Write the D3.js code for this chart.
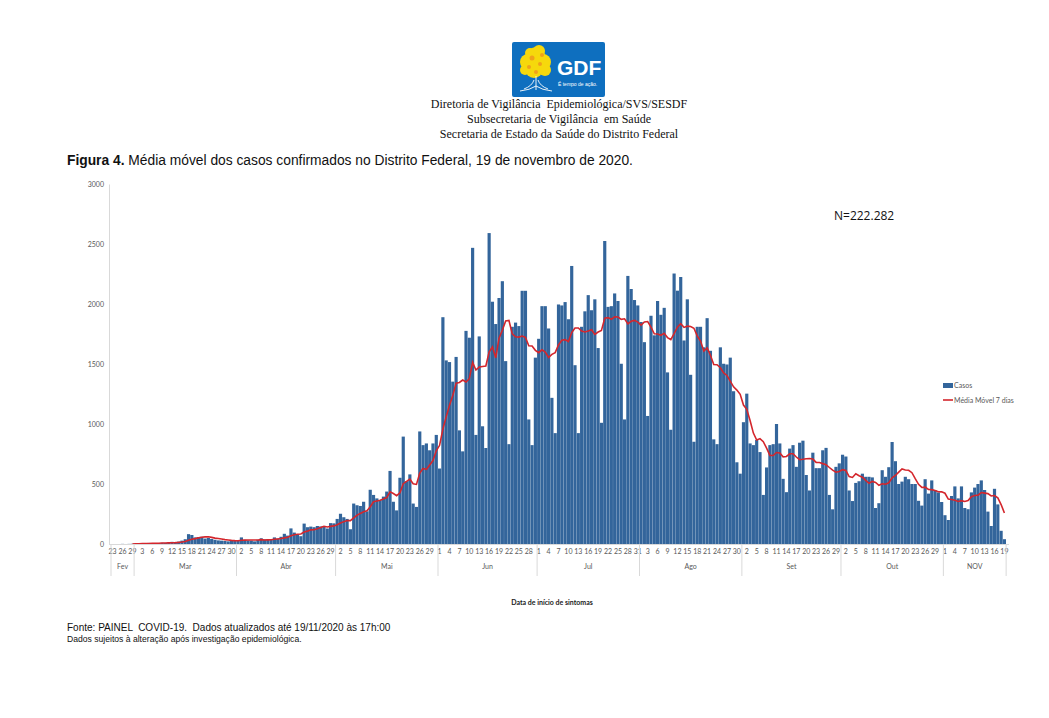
<!DOCTYPE html>
<html>
<head>
<meta charset="utf-8">
<script src="https://cdn.jsdelivr.net/npm/d3@7"></script>
<style>
  body { margin: 0; background: #fff; }
</style>
</head>
<body>
<div id="vis"></div>
<script>
// Cores.
const barColor = "#33659b";
const lineColor = "#d4262c";
const axisText = "#595959";
const axisLine = "#d9d9d9";

// Casos diários por data de início de sintomas.
const casosFev = [0, 0, 0, 1, 0, 1, 2];
const casosMar = [3, 4, 8, 6, 9, 8, 6, 7, 10, 9, 14, 18, 15, 20, 28, 40, 82, 75, 55, 58, 60, 45, 50, 42, 35, 30, 28, 25, 22, 28, 30];
const casosAbr = [30, 55, 35, 30, 28, 22, 35, 48, 38, 40, 35, 55, 45, 60, 85, 70, 130, 95, 80, 65, 170, 140, 145, 140, 150, 146, 146, 129, 174, 172];
const casosMai = [209, 252, 223, 209, 123, 337, 323, 317, 352, 272, 452, 409, 380, 366, 395, 437, 609, 352, 280, 552, 895, 523, 580, 337, 309, 938, 824, 838, 781, 838, 909];
const casosJun = [629, 1890, 1530, 1516, 1353, 1559, 947, 772, 1776, 1719, 2468, 909, 1730, 981, 800, 2591, 2019, 1833, 2050, 2190, 1524, 832, 1810, 1845, 1816, 2110, 2110, 1038, 824, 1553];
const casosJul = [1710, 1982, 1982, 1796, 1218, 924, 1996, 1988, 2016, 1873, 2317, 1490, 924, 1810, 1939, 2074, 1948, 2039, 1633, 1010, 2525, 1976, 1982, 2088, 2025, 1502, 1038, 2234, 2125, 2033, 1988];
const casosAgo = [1850, 1682, 1067, 1902, 1739, 2025, 1910, 1968, 1430, 952, 2254, 2111, 2225, 1696, 2039, 1410, 852, 1810, 1810, 1639, 1882, 1610, 872, 832, 1639, 1502, 1496, 1553, 1273, 681, 586];
const casosSet = [1015, 1253, 838, 824, 867, 766, 409, 638, 824, 832, 1000, 838, 543, 432, 795, 824, 643, 844, 861, 575, 446, 761, 632, 632, 781, 801, 409, 289, 643, 672];
const casosOut = [744, 729, 446, 358, 509, 523, 586, 560, 560, 555, 300, 340, 615, 560, 640, 850, 690, 500, 520, 560, 540, 500, 500, 360, 320, 540, 420, 530, 450, 430, 350];
const casosNov = [240, 200, 400, 480, 380, 480, 300, 290, 430, 470, 500, 530, 450, 270, 150, 460, 330, 110, 40];

// Meses (rótulos do segundo nível do eixo X).
const meses = ["Fev", "Mar", "Abr", "Mai", "Jun", "Jul", "Ago", "Set", "Out", "NOV"];
const casosPorMes = [casosFev, casosMar, casosAbr, casosMai, casosJun, casosJul, casosAgo, casosSet, casosOut, casosNov];
const yTicks = [0, 500, 1000, 1500, 2000, 2500, 3000];
const inicio = Date.UTC(2020, 1, 23);

// Monta a tabela de dias.
const casos = [].concat(...casosPorMes);
const dias = casos.map((c, i) => {
  const dt = d3.utcDay.offset(new Date(inicio), i);
  return {i: i, data: dt, casos: c};
});

// Média móvel de 7 dias (linha de tendência do gráfico original).
const media = dias.slice(6).map(d => ({
  i: d.i,
  valor: d3.mean(casos.slice(d.i - 6, d.i + 1))
}));

const W = 1049, H = 718;
const svg = d3.select("#vis")
  .append("svg")
    .attr("width", W)
    .attr("height", H)
    .style("font-family", "Lato, 'Open Sans', sans-serif");

// Logo GDF.
const logo = svg.append("g").attr("transform", "translate(512,42)");
logo.append("rect")
  .attr("width", 93).attr("height", 55).attr("rx", 2)
  .attr("fill", "#0e6fbf");
const copa = [[24, 14, 9], [16, 20, 8], [31, 20, 8], [22, 27, 9], [33, 28, 6], [13, 28, 5], [27, 9, 6], [18, 11, 5]];
logo.append("g").selectAll("circle")
  .data(copa)
  .join("circle")
    .attr("cx", d => d[0]).attr("cy", d => d[1]).attr("r", d => d[2])
    .attr("fill", "#f6d80c");
logo.append("g").selectAll("circle")
  .data([[20, 16, 2.5], [28, 22, 2], [17, 25, 2], [30, 13, 2], [24, 30, 2]])
  .join("circle")
    .attr("cx", d => d[0]).attr("cy", d => d[1]).attr("r", d => d[2])
    .attr("fill", "#f0a21a");
logo.append("path")
  .attr("d", "M24,34 L24,48 M24,44 Q18,48 8,49 M24,44 Q30,48 40,49 M22,38 Q20,44 12,47 M26,38 Q28,44 36,47")
  .attr("stroke", "#fff").attr("stroke-width", 0.9).attr("fill", "none");
logo.append("text")
  .attr("x", 45).attr("y", 33)
  .attr("fill", "#fff")
  .style("font-family", "'Liberation Sans', Arial, sans-serif")
  .style("font-size", "21px").style("font-weight", "700")
  .text("GDF");
logo.append("text")
  .attr("x", 46).attr("y", 44)
  .attr("fill", "#fff")
  .style("font-family", "'Liberation Sans', Arial, sans-serif")
  .style("font-size", "5px")
  .text("É tempo de ação.");

// Cabeçalho.
const cabecalho = [
  "Diretoria de Vigilância  Epidemiológica/SVS/SESDF",
  "Subsecretaria de Vigilância  em Saúde",
  "Secretaria de Estado da Saúde do Distrito Federal"
];
svg.append("g").selectAll("text")
  .data(cabecalho)
  .join("text")
    .attr("x", 559)
    .attr("y", (d, i) => 108 + i * 15)
    .attr("text-anchor", "middle")
    .style("font-family", "'Liberation Serif', 'Times New Roman', serif")
    .style("font-size", "12px")
    .style("white-space", "pre")
    .attr("fill", "#111")
    .text(d => d);

// Título.
const titulo = svg.append("text")
  .attr("x", 67).attr("y", 165)
  .style("font-family", "'Liberation Sans', Arial, sans-serif")
  .style("font-size", "13.8px")
  .attr("fill", "#111");
titulo.append("tspan").style("font-weight", "700").text("Figura 4.");
titulo.append("tspan").text(" Média móvel dos casos confirmados no Distrito Federal, 19 de novembro de 2020.");

// Escalas.
const plot = {left: 111, right: 1006, top: 184, bottom: 544};
const x = d3.scaleBand()
  .domain(dias.map(d => d.i))
  .range([plot.left, plot.right])
  .paddingInner(0.04);
const y = d3.scaleLinear()
  .domain([0, 3000])
  .range([plot.bottom, plot.top]);

// Eixo Y.
svg.append("g")
  .attr("transform", "translate(" + (plot.left - 2) + ",0)")
  .call(d3.axisLeft(y).tickValues(yTicks).tickFormat(d3.format("d")).tickSize(0).tickPadding(5))
  .call(g => g.select(".domain").attr("stroke", axisLine))
  .call(g => g.selectAll("text")
    .attr("fill", axisText)
    .style("font-size", "7px")
    .style("font-family", "Lato, sans-serif"));

// Barras.
svg.append("g")
  .selectAll("rect")
  .data(dias)
  .join("rect")
    .attr("x", d => x(d.i))
    .attr("y", d => y(d.casos))
    .attr("width", x.bandwidth())
    .attr("height", d => y(0) - y(d.casos))
    .attr("fill", barColor);

// Linha da média móvel.
svg.append("path")
  .datum(media)
  .attr("d", d3.line()
    .x(d => x(d.i) + x.bandwidth() / 2)
    .y(d => y(d.valor)))
  .attr("fill", "none")
  .attr("stroke", lineColor)
  .attr("stroke-width", 1.6);

// Eixo X: linha base.
svg.append("line")
  .attr("x1", plot.left - 2).attr("x2", plot.right + 3)
  .attr("y1", plot.bottom + 0.5).attr("y2", plot.bottom + 0.5)
  .attr("stroke", axisLine);

// Rótulos dos dias (a cada 3 dias).
svg.append("g").selectAll("text")
  .data(dias.filter(d => d.i % 3 === 0))
  .join("text")
    .attr("x", d => x(d.i) + x.bandwidth() / 2)
    .attr("y", plot.bottom + 10)
    .attr("text-anchor", "middle")
    .attr("fill", axisText)
    .style("font-size", "7px")
    .text(d => d.data.getUTCDate());

// Segundo nível: meses.
const grupos = d3.groups(dias, d => d.data.getUTCMonth());
const limites = grupos.map(g => ({
  nome: meses[grupos.indexOf(g)],
  ini: x(g[1][0].i),
  fim: x(g[1][g[1].length - 1].i) + x.step()
}));
svg.append("g").selectAll("line")
  .data([limites[0].ini].concat(limites.map(l => l.fim)))
  .join("line")
    .attr("x1", d => d).attr("x2", d => d)
    .attr("y1", plot.bottom).attr("y2", plot.bottom + 32)
    .attr("stroke", axisLine);
svg.append("g").selectAll("text")
  .data(limites)
  .join("text")
    .attr("x", d => (d.ini + d.fim) / 2)
    .attr("y", plot.bottom + 25)
    .attr("text-anchor", "middle")
    .attr("fill", axisText)
    .style("font-size", "7px")
    .text(d => d.nome);

// Título do eixo X.
svg.append("text")
  .attr("x", 552).attr("y", 605)
  .attr("text-anchor", "middle")
  .attr("fill", "#222")
  .style("font-size", "7px")
  .style("font-weight", "700")
  .text("Data de início de sintomas");

// Total.
svg.append("text")
  .attr("x", 834).attr("y", 220)
  .attr("fill", "#111")
  .style("font-family", "'Open Sans', sans-serif")
  .style("font-size", "12px")
  .text("N=222.282");

// Legenda.
const leg = svg.append("g").attr("transform", "translate(943,386)");
leg.append("rect")
  .attr("x", 0).attr("y", -3).attr("width", 10).attr("height", 5)
  .attr("fill", barColor);
leg.append("text")
  .attr("x", 11).attr("y", 2)
  .attr("fill", axisText)
  .style("font-size", "7px")
  .text("Casos");
leg.append("line")
  .attr("x1", 0).attr("x2", 10)
  .attr("y1", 14).attr("y2", 14)
  .attr("stroke", lineColor).attr("stroke-width", 1.6);
leg.append("text")
  .attr("x", 11).attr("y", 16.5)
  .attr("fill", axisText)
  .style("font-size", "7px")
  .text("Média Móvel 7 dias");

// Rodapé.
svg.append("text")
  .attr("x", 67).attr("y", 631)
  .attr("fill", "#111")
  .style("font-family", "'Liberation Sans', Arial, sans-serif")
  .style("font-size", "10px")
  .style("white-space", "pre")
  .text("Fonte: PAINEL  COVID-19.  Dados atualizados até 19/11/2020 às 17h:00");
svg.append("text")
  .attr("x", 67).attr("y", 642)
  .attr("fill", "#111")
  .style("font-family", "'Liberation Sans', Arial, sans-serif")
  .style("font-size", "8.6px")
  .text("Dados sujeitos à alteração após investigação epidemiológica.");
</script>
</body>
</html>
